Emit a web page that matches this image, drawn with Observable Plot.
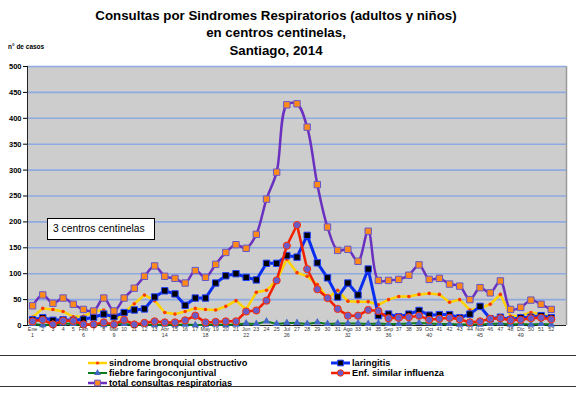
<!DOCTYPE html>
<html><head><meta charset="utf-8">
<script src="https://cdn.jsdelivr.net/npm/d3@7"></script>
<script src="https://cdn.jsdelivr.net/npm/@observablehq/plot@0.6"></script>
<style>
body{margin:0;background:#fff;font-family:"Liberation Sans",Arial,sans-serif;}
#wrap{position:relative;width:576px;height:394px;overflow:hidden;background:#fff}
#title{position:absolute;left:0;top:7px;width:552px;text-align:center;font-weight:bold;font-size:13.3px;line-height:17.3px;color:#000}
#ylab{position:absolute;left:8px;top:43px;font-size:6.5px;font-weight:bold;color:#000}
#chart{position:absolute;left:0;top:58px}
#note{position:absolute;left:47px;top:218px;width:106px;height:20px;border:1px solid #000;background:#fff;font-size:10.3px;line-height:20px;text-indent:5px;color:#000;box-sizing:content-box;white-space:nowrap}
#legend{position:absolute;left:0;top:355px;width:576px;height:30px;border-top:1.5px solid #333;border-bottom:1.5px solid #333}
.li{position:absolute;font-size:9.2px;font-weight:bold;line-height:10px;white-space:nowrap;display:flex;align-items:center}
.li svg{margin-right:1px}
</style></head>
<body><div id="wrap">
<div id="title">Consultas por Sindromes Respiratorios (adultos y niños)<br>en centros centinelas,<br>Santiago, 2014</div>
<div id="ylab">n° de casos</div>
<div id="chart"></div>
<div id="note">3 centros centinelas</div>
<div id="legend"></div>
</div>
<script>
// weeks (categories)
const weeks = [1,2,3,4,5,6,7,8,9,10,11,12,13,14,15,16,17,18,19,20,21,22,23,24,25,26,27,28,29,30,31,32,33,34,35,36,37,38,39,40,41,42,43,44,45,46,47,48,49,50,51,52];
const monthWeeks = [1,6,9,14,18,22,26,32,36,40,45,49];
const monthNames = ["Ene","Feb","Mar","Abr","May","Jun","Jul","Ago","Sep","Oct","Nov","Dic"];
const yTicks = [0,50,100,150,200,250,300,350,400,450,500];

// series values
const sbo = [16,33,31,27,17,18,27,30,8,25,42,59,48,25,22,27,33,31,30,37,48,31,64,68,87,128,102,95,79,53,68,47,46,46,40,50,56,56,60,62,60,45,50,30,33,41,60,18,19,25,22,17];
const laringitis = [11,15,10,11,10,12,16,22,17,25,30,32,55,67,61,39,53,53,82,96,100,93,88,120,120,135,132,174,121,92,55,82,59,109,19,22,17,22,29,20,21,21,15,22,37,13,16,11,15,16,19,15];
const fiebre = [3,1,2,4,3,1,2,1,2,3,1,2,1,2,1,2,1,1,2,1,2,4,3,8,3,5,5,3,6,3,4,4,4,3,4,3,3,4,5,4,3,3,2,2,2,3,4,2,3,2,3,2];
const esi = [8,11,2,9,9,2,2,6,2,11,2,5,8,6,6,10,19,6,7,8,8,27,29,48,87,154,194,109,70,53,32,19,19,30,28,14,15,16,19,11,13,15,12,6,8,13,14,10,11,14,15,12];
const total = [38,59,43,53,41,31,28,53,28,53,72,95,115,95,91,82,106,93,118,141,156,149,176,244,296,426,428,383,272,190,145,147,124,182,87,87,89,97,117,89,91,80,76,50,73,63,86,31,35,49,41,31];

const seriesNames = ["sindrome bronquial obstructivo","laringitis","fiebre faringoconjuntival","Enf. similar influenza","total consultas respiratorias"];

const monthMap = new Map(monthWeeks.map((w,i)=>[w,monthNames[i]]));
const rows = (arr)=>weeks.map((w,i)=>({w, v:arr[i]}));

const styles = [
  {data:rows(sbo), line:"#ffd200", lw:2.5, symbol:"circle", r:1.8, fill:"#ff3a00", stroke:"none", sw:0},
  {data:rows(laringitis), line:"#0a2ef0", lw:3, symbol:"square", r:3.6, fill:"#000", stroke:"#2040ff", sw:1},
  {data:rows(fiebre), line:"#0b7a1e", lw:2, symbol:"triangle", r:2.8, fill:"#4466c8", stroke:"none", sw:0},
  {data:rows(esi), line:"#f02000", lw:2.5, symbol:"circle", r:3.6, fill:"#6a5cc8", stroke:"#ff3000", sw:1},
  {data:rows(total), line:"#6a30c0", lw:2.5, symbol:"square", r:3.6, fill:"#ff8a18", stroke:"#6655cc", sw:1, curve:"catmull-rom"}
];

const marks = [
  Plot.frame({fill:"#cdcdcd", stroke:null}),
  Plot.ruleY(yTicks.slice(1), {stroke:"#8eaae0", strokeWidth:1.6}),
  Plot.ruleX([53.5], {stroke:"#9a9a9a", strokeWidth:1.5}),
  Plot.ruleX([0.5], {stroke:"#222", strokeWidth:1}),
  Plot.ruleY([0], {stroke:"#222", strokeWidth:1}),
];
for (const s of styles) {
  marks.push(Plot.line(s.data, {x:"w", y:"v", stroke:s.line, strokeWidth:s.lw, curve:s.curve||"linear"}));
  marks.push(Plot.dot(s.data, {x:"w", y:"v", symbol:s.symbol, r:s.r, fill:s.fill, stroke:s.stroke, strokeWidth:s.sw}));
}
marks.push(Plot.axisY({ticks:yTicks, tickSize:4, tickPadding:2, fontSize:7.5, fontWeight:"bold", label:null}));
marks.push(Plot.axisX({ticks:weeks, tickFormat:w=>monthMap.get(w) ?? String(w), tickSize:0, tickPadding:2, fontSize:5.3, label:null, fill:"#333"}));
marks.push(Plot.axisX({ticks:monthWeeks, tickFormat:w=>String(w), tickSize:0, tickPadding:8, fontSize:5.3, label:null, fill:"#333"}));

const chart = Plot.plot({
  width:576, height:294,
  marginLeft:27, marginRight:10, marginTop:8, marginBottom:27,
  style:{fontFamily:"Liberation Sans, Arial, sans-serif", background:"transparent", color:"#000", overflow:"visible"},
  x:{type:"linear", domain:[0.5,53.5]},
  y:{domain:[0,500]},
  marks
});
document.getElementById("chart").appendChild(chart);

// legend
const legendPos = [[88,2],[331,2],[88,12],[331,12],[88,22]];
const legend = d3.select("#legend");
const symMap = {circle:d3.symbolCircle, square:d3.symbolSquare, triangle:d3.symbolTriangle};
styles.forEach((s,i)=>{
  const item = legend.append("div").attr("class","li")
    .style("left", legendPos[i][0]+"px").style("top", legendPos[i][1]+"px");
  const svg = item.append("svg").attr("width",20).attr("height",10);
  svg.append("line").attr("x1",0).attr("x2",19).attr("y1",5).attr("y2",5).attr("stroke",s.line).attr("stroke-width",s.lw);
  svg.append("path").attr("transform","translate(9.5,5)")
    .attr("d", d3.symbol(symMap[s.symbol], Math.PI*s.r*s.r*0.8)())
    .attr("fill",s.fill).attr("stroke",s.stroke).attr("stroke-width",s.sw);
  item.append("span").text(seriesNames[i]);
});
</script>
</body></html>
